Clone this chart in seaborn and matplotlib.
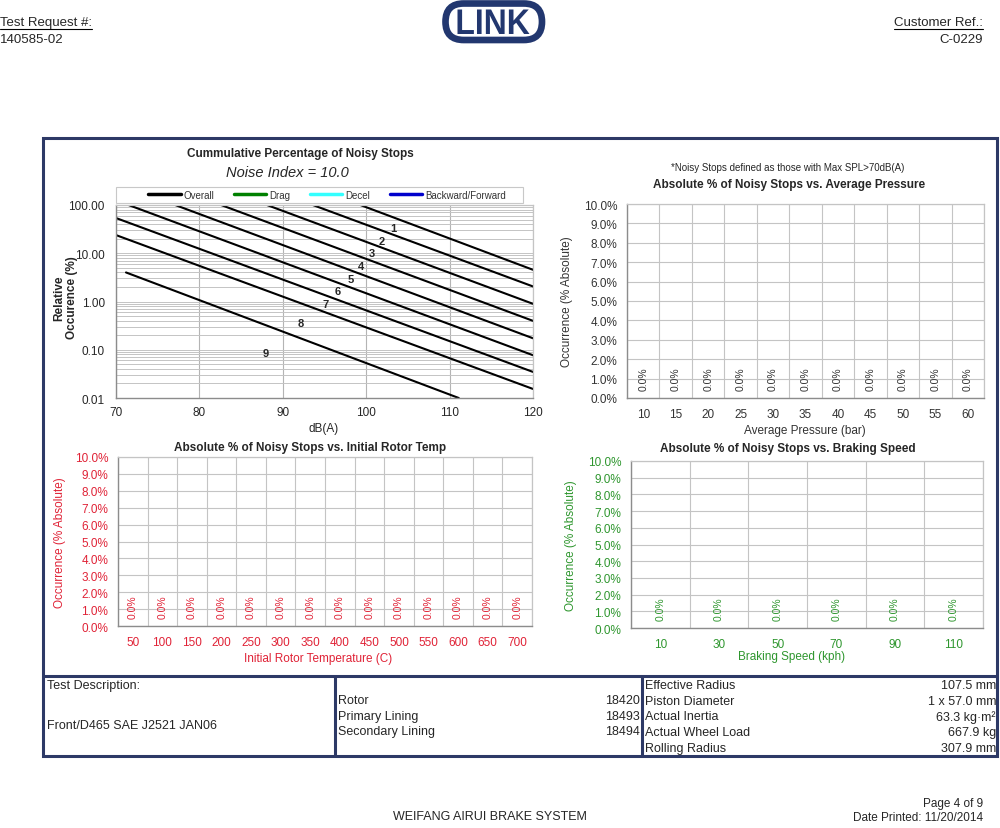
import numpy as np
import pandas as pd
import matplotlib
matplotlib.use('Agg')
import matplotlib.pyplot as plt
import seaborn as sns
from matplotlib.lines import Line2D
from matplotlib.patches import Rectangle, FancyBboxPatch, PathPatch
from matplotlib.textpath import TextPath
from matplotlib.font_manager import FontProperties
from matplotlib.transforms import Affine2D
from matplotlib.ticker import FuncFormatter, LogLocator, NullFormatter

sns.set_theme(style='white')
plt.rcParams['font.family'] = ['Liberation Sans', 'DejaVu Sans']

W, H = 1000, 829

# ------------------------------------------------------------
# data read from the report page
# ------------------------------------------------------------
noise_index = 10.0
zone_ids = ['1', '2', '3', '4', '5', '6', '7', '8', '9']
line_db_start = [99.3, 93.6, 88.1, 82.6, 77.1, 71.5, 70.0, 70.0, 71.2]
line_pct_start = [100.0, 100.0, 100.0, 100.0, 100.0, 100.0, 53.7, 23.8, 4.0]
line_db_end = [120.0, 120.0, 120.0, 120.0, 120.0, 120.0, 120.0, 120.0, 111.1]
line_pct_end = [4.54, 2.05, 0.895, 0.397, 0.173, 0.077, 0.0347, 0.0154, 0.01]
zone_label_db = [103.2, 101.9, 100.7, 99.4, 98.2, 96.6, 95.1, 92.2, 88.0]
zone_label_pct = [32.8, 17.6, 9.9, 5.33, 2.91, 1.64, 0.88, 0.366, 0.087]
legend_names = ['Overall', 'Drag', 'Decel', 'Backward/Forward']
legend_colors = ['black', '#008000', '#33FFFF', '#0000CC']

pressure_bar = [10, 15, 20, 25, 30, 35, 40, 45, 50, 55, 60]
pressure_pct = [0.0, 0.0, 0.0, 0.0, 0.0, 0.0, 0.0, 0.0, 0.0, 0.0, 0.0]
rotor_temp_c = [50, 100, 150, 200, 250, 300, 350, 400, 450, 500, 550, 600, 650, 700]
rotor_temp_pct = [0.0, 0.0, 0.0, 0.0, 0.0, 0.0, 0.0, 0.0, 0.0, 0.0, 0.0, 0.0, 0.0, 0.0]
speed_kph = [10, 30, 50, 70, 90, 110]
speed_pct = [0.0, 0.0, 0.0, 0.0, 0.0, 0.0]

parts_names = ['Rotor', 'Primary Lining', 'Secondary Lining']
parts_ids = ['18420', '18493', '18494']
spec_names = ['Effective Radius', 'Piston Diameter', 'Actual Inertia',
              'Actual Wheel Load', 'Rolling Radius']
spec_values = ['107.5 mm', '1 x 57.0 mm', '63.3 kg·m²', '667.9 kg', '307.9 mm']

NAVY = '#2D3966'
LOGO_NAVY = '#22376F'
RED = '#E02236'
GREEN = '#2E962E'
GRID = '#C4C4C4'
SPINE = '#8C8C8C'

fig = plt.figure(figsize=(W / 100, H / 100), dpi=100)
fig.patch.set_facecolor('white')


def rect(l, t, r, b):
    return [l / W, 1 - b / H, (r - l) / W, (b - t) / H]


def ftext(x, y, s, **kw):
    kw.setdefault('va', 'center')
    return fig.text(x / W, 1 - y / H, s, **kw)


def fline(x0, y0, x1, y1, **kw):
    fig.add_artist(Line2D([x0 / W, x1 / W], [1 - y0 / H, 1 - y1 / H],
                          transform=fig.transFigure, **kw))


def style_spines(ax):
    for side in ['left', 'bottom']:
        ax.spines[side].set_color(SPINE)
        ax.spines[side].set_linewidth(1.0)
    for side in ['top', 'right']:
        ax.spines[side].set_color(GRID)
        ax.spines[side].set_linewidth(0.9)


# ------------------------------------------------------------
# header
# ------------------------------------------------------------
t1 = ftext(0, 23, 'Test Request #:', fontsize=9.5, ha='left')
ftext(0, 40, '140585-02', fontsize=9.5, ha='left')
t2 = ftext(983, 23, 'Customer Ref.:', fontsize=9.5, ha='right')
ftext(983, 40, 'C-0229', fontsize=9.5, ha='right')
renderer = fig.canvas.get_renderer()
for t in (t1, t2):
    bb = t.get_window_extent(renderer)
    fig.add_artist(Line2D([bb.x0 / W, bb.x1 / W], [(bb.y0 - 1) / H] * 2,
                          transform=fig.transFigure, color='black', lw=0.8))

# logo: stadium ring with condensed bold lettering
axl = fig.add_axes(rect(440, 0, 546, 46))
axl.set_xlim(0, 106)
axl.set_ylim(0, 46)
axl.axis('off')
axl.add_patch(FancyBboxPatch((5.5, 5.0), 96.5, 36.5, boxstyle='round,pad=0,rounding_size=18.2',
                             lw=4.8, ec=LOGO_NAVY, fc='white'))
tp = TextPath((0, 0), 'LINK', size=10, prop=FontProperties(family='Liberation Sans', weight='bold'))
ext = tp.get_extents()
tx0, ty0, tx1, ty1 = 17.5, 11.0, 89.5, 35.5
fit = (Affine2D().translate(-ext.x0, -ext.y0)
       .scale((tx1 - tx0) / ext.width, (ty1 - ty0) / ext.height)
       .translate(tx0, ty0))
axl.add_patch(PathPatch(fit.transform_path(tp), fc=LOGO_NAVY, ec='none'))

# ------------------------------------------------------------
# frame + table
# ------------------------------------------------------------
fig.add_artist(Rectangle((43 / W, 1 - 757 / H), 954 / W, 618 / H, transform=fig.transFigure,
                         fill=False, ec=NAVY, lw=2.2))
fline(43, 677, 997, 677, color=NAVY, lw=2.2)
fline(335, 677, 335, 757, color=NAVY, lw=2.2)
fline(642, 677, 642, 757, color=NAVY, lw=2.2)

ftext(47, 686, 'Test Description:', fontsize=9, ha='left')
ftext(47, 726, 'Front/D465 SAE J2521 JAN06', fontsize=9, ha='left')
for i, (name, pid) in enumerate(zip(parts_names, parts_ids)):
    y = 701 + i * 15.7
    ftext(338, y, name, fontsize=9, ha='left')
    ftext(640, y, pid, fontsize=9, ha='right')
for i, (name, val) in enumerate(zip(spec_names, spec_values)):
    y = 686 + i * 15.7
    ftext(645, y, name, fontsize=9, ha='left')
    ftext(996, y, val, fontsize=9, ha='right')

# footer
ftext(490, 817, 'WEIFANG AIRUI BRAKE SYSTEM', fontsize=9, ha='center')
ftext(983, 804, 'Page 4 of 9', fontsize=8.5, ha='right')
ftext(983, 818, 'Date Printed: 11/20/2014', fontsize=8.5, ha='right')

# ------------------------------------------------------------
# cumulative percentage chart
# ------------------------------------------------------------
ax0 = fig.add_axes(rect(116, 206, 533, 399))
rows = []
for i, z in enumerate(zone_ids):
    rows.append({'dB': line_db_start[i], 'pct': line_pct_start[i], 'zone': z})
    rows.append({'dB': line_db_end[i], 'pct': line_pct_end[i], 'zone': z})
df_lines = pd.DataFrame(rows)
sns.lineplot(data=df_lines, x='dB', y='pct', units='zone', estimator=None,
             color='black', lw=1.5, ax=ax0, legend=False)
ax0.set_yscale('log')
ax0.set_xlim(70, 120)
ax0.set_ylim(0.01, 100)
ax0.set_xticks([70, 80, 90, 100, 110, 120])
ax0.set_yticks([0.01, 0.1, 1, 10, 100])
ax0.yaxis.set_major_formatter(FuncFormatter(lambda v, p: f'{v:.2f}'))
ax0.yaxis.set_minor_locator(LogLocator(base=10, subs=np.arange(2, 10)))
ax0.yaxis.set_minor_formatter(NullFormatter())
ax0.grid(True, which='both', axis='y', color=GRID, lw=0.7)
ax0.grid(True, which='major', axis='x', color='#B4B4B4', lw=0.8)
ax0.tick_params(axis='both', which='major', length=4, color=SPINE, labelsize=8.5, pad=4)
ax0.tick_params(axis='y', which='minor', length=0)
ax0.tick_params(axis='x', which='major', pad=1.5)
ax0.set_xlabel('')
ax0.set_ylabel('')
style_spines(ax0)
for z, xd, yd in zip(zone_ids, zone_label_db, zone_label_pct):
    ax0.text(xd, yd, z, ha='center', va='center', fontsize=8, fontweight='bold')

ftext(300, 154, 'Cummulative Percentage of Noisy Stops', fontsize=8.5, fontweight='bold', ha='center')
ftext(287, 173, f'Noise Index = {noise_index:.1f}', fontsize=10.5, style='italic', ha='center')
ftext(324, 429, 'dB(A)', fontsize=8.5, ha='center')
ftext(66, 298, 'Relative\nOccurence (%)', fontsize=8.5, fontweight='bold', ha='center',
      rotation=90, linespacing=1.1)

# legend box spans the plot width, entries start further in
fig.add_artist(Rectangle((116 / W, 1 - 204 / H), 407 / W, 16.5 / H, transform=fig.transFigure,
                         fill=True, fc='white', ec='#C8C8C8', lw=0.8))
handles = [Line2D([], [], color=c, lw=2.5) for c in legend_colors]
leg = fig.legend(handles, legend_names, loc='center', ncol=4, mode='expand',
                 bbox_to_anchor=(146 / W, 1 - 204 / H, 362 / W, 16.5 / H),
                 fontsize=7, frameon=False, handlelength=3.3,
                 handletextpad=0.3, borderpad=0.25, borderaxespad=0)
for txt in leg.get_texts():
    txt.set_color('#333333')

# note + pressure chart
ftext(788, 168, '*Noisy Stops defined as those with Max SPL>70dB(A)', fontsize=7, ha='center')


def bar_panel(box, cats, vals, color, title, title_xy, xlabel, xlabel_xy, ylabel_x):
    ax = fig.add_axes(rect(*box))
    df = pd.DataFrame({'cat': [str(c) for c in cats], 'pct': vals})
    sns.barplot(data=df, x='cat', y='pct', ax=ax, color=color, width=0.6, linewidth=0)
    ax.bar_label(ax.containers[0], labels=[f'{v:.1f}%' for v in vals], rotation=90,
                 padding=5.5, fontsize=7.5, color=color)
    n = len(cats)
    ax.set_xlim(-0.5, n - 0.5)
    ax.set_ylim(0, 10)
    ax.set_yticks(np.arange(0, 11, 1))
    ax.yaxis.set_major_formatter(FuncFormatter(lambda v, p: f'{v:.1f}%'))
    ax.set_xticks(np.arange(n + 1) - 0.5, minor=True)
    ax.grid(True, which='minor', axis='x', color=GRID, lw=0.8)
    ax.grid(True, which='major', axis='y', color=GRID, lw=0.8)
    ax.grid(False, which='major', axis='x')
    ax.tick_params(axis='x', which='major', length=0, pad=7, labelsize=8.5, labelcolor=color)
    ax.tick_params(axis='x', which='minor', length=4, color=SPINE, direction='out')
    ax.tick_params(axis='y', which='major', length=4, color=SPINE, labelsize=8.5,
                   labelcolor=color, pad=3)
    ax.set_xlabel('')
    ax.set_ylabel('')
    style_spines(ax)
    ftext(title_xy[0], title_xy[1], title, fontsize=8.5, fontweight='bold', ha='center')
    ftext(xlabel_xy[0], xlabel_xy[1], xlabel, fontsize=8.5, ha='center', color=color)
    ftext(ylabel_x, (box[1] + box[3]) / 2, 'Occurrence (% Absolute)', fontsize=8.5,
          ha='center', rotation=90, color=color)
    return ax


bar_panel((627, 205, 984, 399), pressure_bar, pressure_pct, '#333333',
          'Absolute % of Noisy Stops vs. Average Pressure', (789, 185),
          'Average Pressure (bar)', (805, 431), 567)
bar_panel((118, 458, 532, 627), rotor_temp_c, rotor_temp_pct, RED,
          'Absolute % of Noisy Stops vs. Initial Rotor Temp', (310, 448),
          'Initial Rotor Temperature (C)', (318, 659), 60)
bar_panel((631, 462, 983, 629), speed_kph, speed_pct, GREEN,
          'Absolute % of Noisy Stops vs. Braking Speed', (788, 449),
          'Braking Speed (kph)', (792, 657), 571)

fig.savefig('out.png', dpi=100, facecolor='white')
